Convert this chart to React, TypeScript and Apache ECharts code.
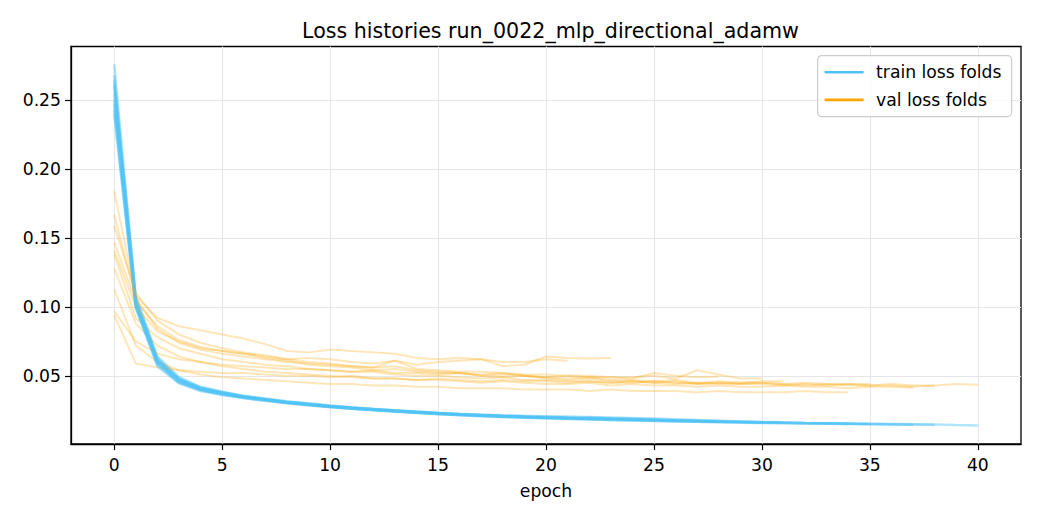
import React, { useEffect, useRef } from "react";
import * as echarts from "echarts";

const TITLE = "Loss histories run_0022_mlp_directional_adamw";
const X_NAME = "epoch";
const TRAIN_NAME = "train loss folds";
const VAL_NAME = "val loss folds";
const X_TICKS = [0, 5, 10, 15, 20, 25, 30, 35, 40];
const Y_TICKS = [0.05, 0.1, 0.15, 0.2, 0.25];

const train1 = [0.262, 0.104, 0.061, 0.047, 0.041, 0.038, 0.035, 0.033, 0.031, 0.0295, 0.028, 0.0268, 0.0258, 0.0248, 0.0238, 0.0228, 0.022, 0.0214, 0.0208, 0.0203, 0.0198, 0.0194, 0.019, 0.0186, 0.0182, 0.0178, 0.0175, 0.0172, 0.0169, 0.0166, 0.0163, 0.0161, 0.0158, 0.0156, 0.0154, 0.0152, 0.015, 0.0148, 0.0146, 0.0142, 0.014];
const train2 = [0.276, 0.108, 0.064, 0.049, 0.042, 0.0385, 0.0355, 0.0335, 0.0315, 0.03, 0.0285, 0.0272, 0.026, 0.025, 0.024, 0.023, 0.0222, 0.0215, 0.021, 0.0205, 0.0202, 0.0198, 0.0195, 0.019, 0.0186, 0.0182, 0.0178, 0.0174, 0.017, 0.0166, 0.0162, 0.016, 0.0157, 0.0155, 0.0152, 0.015, 0.0148, 0.0146, 0.0144];
const train3 = [0.25, 0.101, 0.06, 0.046, 0.04, 0.037, 0.0345, 0.0325, 0.0305, 0.029, 0.0275, 0.0263, 0.0253, 0.0243, 0.0233, 0.0224, 0.0216, 0.021, 0.0204, 0.0199, 0.0195, 0.0191, 0.0187, 0.0183, 0.0179, 0.0176, 0.0172, 0.0169, 0.0166, 0.0163, 0.016, 0.0158, 0.0155, 0.0153, 0.0151, 0.0149, 0.0147, 0.0145];
const train4 = [0.268, 0.106, 0.063, 0.048, 0.0415, 0.038, 0.035, 0.033, 0.031, 0.0298, 0.0283, 0.027, 0.0259, 0.0249, 0.024, 0.0232, 0.0225, 0.0219, 0.0214, 0.021, 0.0207, 0.0204, 0.0201, 0.0198, 0.0194, 0.019, 0.0185, 0.018, 0.0174, 0.0168, 0.0163, 0.016, 0.0157, 0.0155, 0.0153, 0.0151];
const train5 = [0.243, 0.1, 0.058, 0.045, 0.0395, 0.0365, 0.034, 0.032, 0.0302, 0.0287, 0.0272, 0.026, 0.025, 0.024, 0.023, 0.0221, 0.0213, 0.0206, 0.02, 0.0195, 0.0191, 0.0187, 0.0183, 0.0179, 0.0175, 0.0172, 0.0169, 0.0166, 0.0163, 0.016, 0.0158, 0.0156, 0.0154, 0.0152, 0.015];
const train6 = [0.265, 0.105, 0.062, 0.048, 0.0412, 0.0378, 0.0352, 0.0331, 0.0312, 0.0296, 0.0281, 0.0268, 0.0257, 0.0247, 0.0237, 0.0228, 0.022, 0.0213, 0.0207, 0.0202, 0.0198, 0.0194, 0.019, 0.0186, 0.0182, 0.0179, 0.0176, 0.0173, 0.017, 0.0167, 0.0164, 0.0162];
const train7 = [0.24, 0.099, 0.057, 0.0445, 0.039, 0.036, 0.0337, 0.0318, 0.0301, 0.0286, 0.0273, 0.0261, 0.0251, 0.0241, 0.0232, 0.0223, 0.0215, 0.0208, 0.0202, 0.0197, 0.0192, 0.0188, 0.0184, 0.018, 0.0176, 0.0173, 0.017, 0.0167, 0.0164, 0.0162, 0.016];
const train8 = [0.255, 0.103, 0.061, 0.047, 0.0405, 0.0372, 0.0347, 0.0326, 0.0308, 0.0292, 0.0278, 0.0266, 0.0255, 0.0245, 0.0236, 0.0228, 0.0221, 0.0215, 0.0209, 0.0204, 0.02, 0.0197, 0.0195, 0.0192, 0.0188, 0.0183, 0.0178, 0.0172, 0.0167];
const train9 = [0.26, 0.102, 0.06, 0.0465, 0.0402, 0.037, 0.0345, 0.0325, 0.0307, 0.0291, 0.0277, 0.0264, 0.0253, 0.0243, 0.0234, 0.0226, 0.0219, 0.0212, 0.0206, 0.0201, 0.0196, 0.0192, 0.0188, 0.0185];
const train10 = [0.247, 0.1, 0.059, 0.0455, 0.0398, 0.0367, 0.0342, 0.0322, 0.0304, 0.0289, 0.0275, 0.0263, 0.0252, 0.0242, 0.0233, 0.0225, 0.0218, 0.0211, 0.0205, 0.02, 0.0195, 0.0191];

const val1 = [0.138, 0.092, 0.078, 0.07, 0.066, 0.062, 0.06, 0.058, 0.057, 0.055, 0.054, 0.053, 0.053, 0.051, 0.05, 0.05, 0.049, 0.048, 0.049, 0.047, 0.047, 0.046, 0.046, 0.045, 0.046, 0.045, 0.044, 0.045, 0.044, 0.044, 0.045, 0.044, 0.043, 0.044, 0.043, 0.043, 0.044, 0.043, 0.043, 0.044, 0.0435];
const val2 = [0.147, 0.104, 0.086, 0.076, 0.071, 0.068, 0.066, 0.063, 0.061, 0.058, 0.057, 0.056, 0.054, 0.055, 0.053, 0.052, 0.052, 0.05, 0.049, 0.05, 0.048, 0.047, 0.048, 0.046, 0.046, 0.045, 0.046, 0.044, 0.045, 0.044, 0.044, 0.043, 0.044, 0.043, 0.044, 0.043, 0.043, 0.042, 0.043];
const val3 = [0.128, 0.088, 0.072, 0.064, 0.06, 0.057, 0.055, 0.053, 0.052, 0.051, 0.05, 0.049, 0.048, 0.048, 0.047, 0.047, 0.046, 0.045, 0.046, 0.045, 0.044, 0.044, 0.045, 0.043, 0.044, 0.043, 0.043, 0.042, 0.043, 0.042, 0.042, 0.043, 0.042, 0.042, 0.041, 0.042, 0.042, 0.0415];
const val4 = [0.159, 0.11, 0.09, 0.08, 0.074, 0.07, 0.067, 0.065, 0.062, 0.06, 0.059, 0.057, 0.056, 0.057, 0.054, 0.053, 0.052, 0.051, 0.052, 0.05, 0.049, 0.048, 0.049, 0.047, 0.047, 0.046, 0.047, 0.045, 0.046, 0.045, 0.045, 0.044, 0.045, 0.044, 0.044, 0.044];
const val5 = [0.113, 0.072, 0.06, 0.054, 0.051, 0.049, 0.048, 0.047, 0.046, 0.045, 0.044, 0.044, 0.043, 0.043, 0.042, 0.042, 0.041, 0.041, 0.041, 0.04, 0.04, 0.04, 0.039, 0.04, 0.039, 0.039, 0.039, 0.038, 0.039, 0.038, 0.038, 0.038, 0.039, 0.038, 0.038];
const val6 = [0.094, 0.059, 0.056, 0.054, 0.053, 0.052, 0.052, 0.051, 0.05, 0.05, 0.049, 0.05, 0.048, 0.048, 0.047, 0.048, 0.047, 0.046, 0.047, 0.046, 0.046, 0.045, 0.046, 0.045, 0.045, 0.046, 0.045, 0.044, 0.045, 0.045, 0.046, 0.046];
const val7 = [0.167, 0.106, 0.084, 0.074, 0.069, 0.066, 0.064, 0.062, 0.06, 0.059, 0.058, 0.057, 0.056, 0.061, 0.055, 0.054, 0.053, 0.053, 0.052, 0.051, 0.051, 0.05, 0.05, 0.049, 0.049, 0.05, 0.048, 0.054, 0.051, 0.048, 0.048];
const val8 = [0.097, 0.075, 0.066, 0.062, 0.06, 0.058, 0.057, 0.056, 0.055, 0.055, 0.054, 0.053, 0.054, 0.052, 0.052, 0.051, 0.052, 0.05, 0.051, 0.05, 0.049, 0.05, 0.049, 0.049, 0.048, 0.052, 0.05, 0.049, 0.0495];
const val9 = [0.141, 0.1, 0.082, 0.075, 0.07, 0.068, 0.066, 0.064, 0.062, 0.063, 0.062, 0.06, 0.059, 0.061, 0.058, 0.06, 0.061, 0.062, 0.057, 0.058, 0.064, 0.063, 0.0625, 0.063];
const val10 = [0.184, 0.108, 0.092, 0.086, 0.083, 0.08, 0.077, 0.073, 0.068, 0.067, 0.069, 0.068, 0.067, 0.066, 0.063, 0.062, 0.063, 0.062, 0.06, 0.06, 0.062, 0.061];

const TRAIN_FOLDS = [train1, train2, train3, train4, train5, train6, train7, train8, train9, train10];
const VAL_FOLDS = [val1, val2, val3, val4, val5, val6, val7, val8, val9, val10];

const TRAIN_COLOR = "#4fc3f7";
const VAL_COLOR = "#ffa500";
const FONT = "DejaVu Sans";
const TICK_FONT = 17.2;

export default function App() {
  const ref = useRef<HTMLDivElement>(null);
  useEffect(() => {
    if (!ref.current) return;
    const chart = echarts.init(ref.current, undefined, { renderer: "svg" });
    const series: any[] = [];
    TRAIN_FOLDS.forEach((t, k) => {
      series.push({
        name: TRAIN_NAME,
        type: "line",
        data: t.map((v, i) => [i, v]),
        showSymbol: false,
        symbol: "none",
        silent: true,
        lineStyle: { color: TRAIN_COLOR, width: 2.5, opacity: 0.45 },
        itemStyle: { color: TRAIN_COLOR },
        z: 2,
      });
      const v = VAL_FOLDS[k];
      series.push({
        name: VAL_NAME,
        type: "line",
        data: v.map((y, i) => [i, y]),
        showSymbol: false,
        symbol: "none",
        silent: true,
        lineStyle: { color: VAL_COLOR, width: 2, opacity: 0.28 },
        itemStyle: { color: VAL_COLOR },
        z: 2,
      });
    });
    const splitLine = { show: true, lineStyle: { color: "#e6e6e6", width: 1.1 } };
    const axisLine = { show: true, onZero: false, lineStyle: { color: "#000", width: 1.3 } };
    chart.setOption({
      animation: false,
      title: {
        text: TITLE,
        left: 545.5,
        top: 15,
        textAlign: "center",
        textStyle: { fontFamily: FONT, fontSize: 20.6, fontWeight: "normal", color: "#000" },
      },
      grid: {
        left: 71,
        right: 19,
        top: 46.5,
        bottom: 76,
        show: true,
        borderColor: "#000",
        borderWidth: 1.3,
        backgroundColor: "transparent",
      },
      xAxis: {
        type: "value",
        min: -2,
        max: 42,
        name: X_NAME,
        nameLocation: "middle",
        nameGap: 38,
        nameTextStyle: { fontFamily: FONT, fontSize: TICK_FONT, color: "#000" },
        axisLine,
        splitLine,
        axisTick: { show: true, length: 6, lineStyle: { color: "#000", width: 1.2 }, customValues: X_TICKS },
        axisLabel: {
          customValues: X_TICKS,
          margin: 12,
          fontFamily: FONT,
          fontSize: TICK_FONT,
          color: "#000",
          formatter: (v: number) => String(v),
        },
      },
      yAxis: {
        type: "value",
        min: 0.0005,
        max: 0.289,
        axisLine,
        splitLine,
        axisTick: { show: true, length: 6, lineStyle: { color: "#000", width: 1.2 }, customValues: Y_TICKS },
        axisLabel: {
          customValues: Y_TICKS,
          margin: 10,
          fontFamily: FONT,
          fontSize: TICK_FONT,
          color: "#000",
          formatter: (v: number) => v.toFixed(2),
        },
      },
      series,
      graphic: [
        {
          type: "group",
          left: 817,
          top: 55,
          z: 100,
          children: [
            {
              type: "rect",
              z: 100,
              shape: { x: 0, y: 0, width: 194, height: 61, r: 4 },
              style: { fill: "rgba(255,255,255,0.8)", stroke: "#cccccc", lineWidth: 1.2 },
            },
            {
              type: "line",
              z: 101,
              shape: { x1: 7, y1: 16.7, x2: 46, y2: 16.7 },
              style: { stroke: TRAIN_COLOR, lineWidth: 2.6 },
            },
            {
              type: "line",
              z: 101,
              shape: { x1: 7, y1: 44.3, x2: 46, y2: 44.3 },
              style: { stroke: VAL_COLOR, lineWidth: 2.6 },
            },
            {
              type: "text",
              z: 101,
              x: 58.5,
              y: 16.7,
              style: { text: TRAIN_NAME, fontFamily: FONT, fontSize: TICK_FONT, fill: "#000", verticalAlign: "middle" },
            },
            {
              type: "text",
              z: 101,
              x: 58.5,
              y: 44.3,
              style: { text: VAL_NAME, fontFamily: FONT, fontSize: TICK_FONT, fill: "#000", verticalAlign: "middle" },
            },
          ],
        },
      ],
    });
    return () => chart.dispose();
  }, []);
  return (
    <div
      ref={ref}
      style={{ position: "absolute", left: 0, top: 0, width: 1040, height: 520, background: "#fff" }}
    />
  );
}
